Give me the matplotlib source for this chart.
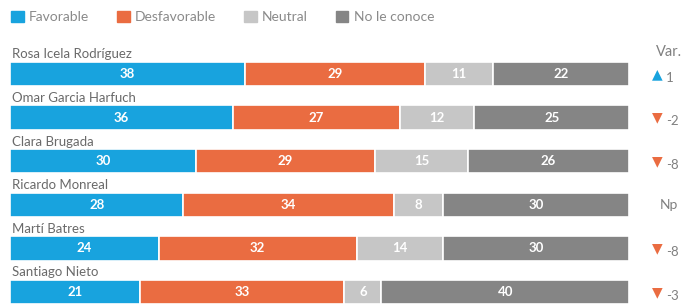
import numpy as np
import matplotlib.pyplot as plt
from matplotlib.patches import Patch

names = ['Rosa Icela Rodríguez', 'Omar Garcia Harfuch', 'Clara Brugada',
         'Ricardo Monreal', 'Martí Batres', 'Santiago Nieto']
favorable = [38, 36, 30, 28, 24, 21]
desfavorable = [29, 27, 29, 34, 32, 33]
neutral = [11, 12, 15, 8, 14, 6]
no_conoce = [22, 25, 26, 30, 30, 40]
variation = [1, -2, -8, None, -8, -3]

series = {
    'Favorable': favorable,
    'Desfavorable': desfavorable,
    'Neutral': neutral,
    'No le conoce': no_conoce,
}
colors = ['#18a3de', '#ea6c41', '#c6c6c6', '#858585']

plt.rcParams['font.family'] = ['Lato', 'DejaVu Sans']

W, H = 681, 305
fig = plt.figure(figsize=(W / 100, H / 100), dpi=100)
row_h = 43.6
top = 74 - 0.5 * row_h
ax = fig.add_axes([10 / W, 0, 619 / W, (H - top) / H])
ax.set_xlim(0, 100)
ax.set_ylim(5.3, -0.5)
ax.axis('off')

y = np.arange(len(names))
left = np.zeros(len(names))
for (label, vals), c in zip(series.items(), colors):
    vals = np.array(vals)
    ax.barh(y, vals, left=left, height=0.56, color=c, edgecolor='white',
            linewidth=1.2)
    for yi, l, v in zip(y, left, vals):
        ax.text(l + v / 2, yi, str(v), ha='center', va='center',
                color='white', fontsize=9.5, fontweight='bold')
    left += vals

for yi, n in zip(y, names):
    ax.text(0.3, yi - 0.31, n, ha='left', va='bottom', color='#6a6a6a',
            fontsize=9.5, clip_on=False)

# variation column
fig.text(656 / W, 1 - 52 / H, "Var.", color='#808080', fontsize=10.5,
         va='center', ha='left')
for i, v in enumerate(variation):
    py = 1 - (74 + i * row_h) / H
    if v is None:
        fig.text(660 / W, py, 'Np', color='#808080', fontsize=10,
                 va='center', ha='left')
        continue
    if v > 0:
        fig.text(652 / W, py, '▲', color='#18a3de', fontsize=10,
                 va='center', ha='left', family='DejaVu Sans')
    else:
        fig.text(652 / W, py, '▼', color='#ea6c41', fontsize=10,
                 va='center', ha='left', family='DejaVu Sans')
    fig.text(666 / W, py - 0.012, str(v), color='#808080', fontsize=9.5,
             va='center', ha='left')

handles = [Patch(color=c, label=l) for l, c in zip(series, colors)]
fig.legend(handles=handles, loc='center left', bbox_to_anchor=(11 / W, 1 - 17 / H),
           ncol=4, frameon=False, handlelength=0.9,
           handleheight=0.9, handletextpad=0.4, columnspacing=2.0,
           labelcolor='#8a8a8a', borderaxespad=0, borderpad=0,
           prop={'size': 10})

fig.savefig('out.png', dpi=100, facecolor='white')
